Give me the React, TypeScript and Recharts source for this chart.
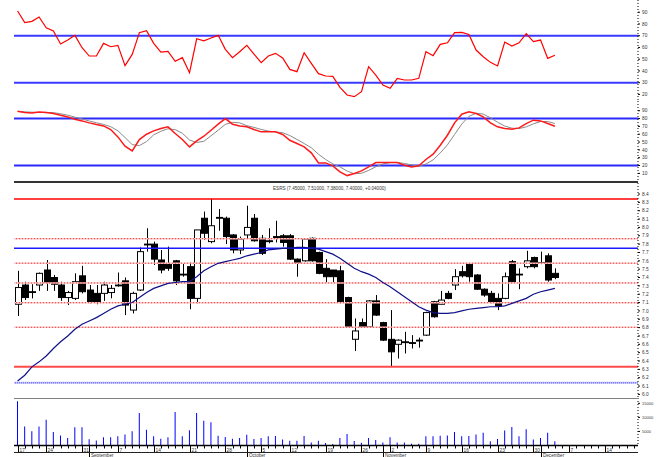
import { Bar, ComposedChart, Line, ReferenceLine, XAxis, YAxis } from 'recharts'

// daily OHLC
const opens = [
	7.08, 7.31, 7.23, 7.31, 7.49, 7.4, 7.31, 7.16, 7.15, 7.42, 7.25, 7.21, 7.21, 7.22, 7.31, 7.36, 7.01, 7.25, 7.8, 7.8,
	7.61, 7.56, 7.6, 7.44, 7.53, 7.15, 8.11, 7.83, 8.12, 8.11, 7.91, 7.73, 7.91, 8.11, 7.87, 7.84, 7.89, 7.9, 7.9, 7.62,
	7.6, 7.87, 7.7, 7.51, 7.49, 7.48, 7.16, 6.66, 6.86, 6.81, 7.12, 6.86, 6.66, 6.6, 6.63, 6.62, 6.64, 6.71, 7.11, 7.08,
	7.21, 7.31, 7.47, 7.56, 7.43, 7.26, 7.21, 7.15, 7.15, 7.59, 7.44, 7.53, 7.64, 7.58, 7.66, 7.45,
]
const highs = [
	7.48, 7.35, 7.32, 7.46, 7.61, 7.43, 7.35, 7.24, 7.45, 7.54, 7.31, 7.31, 7.35, 7.31, 7.46, 7.4, 7.23, 7.76, 7.99, 7.83,
	7.73, 7.77, 7.61, 7.57, 7.58, 7.97, 8.19, 8.34, 8.22, 8.13, 7.92, 7.89, 8.26, 8.16, 7.91, 7.99, 8.08, 7.92, 7.92, 7.63,
	7.87, 7.88, 7.71, 7.62, 7.49, 7.54, 7.17, 6.91, 6.91, 7.13, 7.19, 6.87, 7.01, 6.66, 6.75, 6.71, 6.68, 6.99, 7.12, 7.24,
	7.24, 7.5, 7.54, 7.57, 7.44, 7.27, 7.24, 7.21, 7.46, 7.61, 7.51, 7.72, 7.65, 7.71, 7.69, 7.51,
]
const lows = [
	6.94, 7.13, 7.15, 7.24, 7.24, 7.24, 7.12, 7.07, 7.13, 7.21, 7.09, 7.08, 7.12, 7.15, 7.29, 6.95, 6.97, 7.24, 7.71, 7.55,
	7.45, 7.48, 7.31, 7.41, 7.02, 7.09, 7.85, 7.81, 7.96, 7.8, 7.69, 7.68, 7.87, 7.83, 7.67, 7.81, 7.82, 7.77, 7.61, 7.41,
	7.59, 7.59, 7.44, 7.34, 7.34, 7.09, 6.8, 6.52, 6.8, 6.8, 6.94, 6.64, 6.33, 6.43, 6.49, 6.55, 6.56, 6.7, 6.92, 7.08,
	7.14, 7.25, 7.4, 7.35, 7.25, 7.17, 7.09, 7.01, 7.14, 7.34, 7.26, 7.51, 7.51, 7.56, 7.35, 7.38,
]
const closes = [
	7.28, 7.16, 7.22, 7.45, 7.34, 7.32, 7.16, 7.22, 7.35, 7.23, 7.11, 7.1, 7.31, 7.27, 7.3, 7.07, 7.21, 7.71, 7.8, 7.62,
	7.49, 7.51, 7.36, 7.43, 7.15, 7.97, 7.93, 8.02, 8.11, 7.89, 7.73, 7.86, 8.0, 7.84, 7.69, 7.83, 7.88, 7.82, 7.62, 7.57,
	7.86, 7.6, 7.45, 7.41, 7.41, 7.11, 6.81, 6.76, 6.81, 7.12, 6.95, 6.65, 6.51, 6.65, 6.63, 6.62, 6.65, 6.98, 6.93, 7.13,
	7.15, 7.41, 7.42, 7.41, 7.26, 7.19, 7.11, 7.06, 7.41, 7.35, 7.44, 7.6, 7.53, 7.58, 7.37, 7.4,
]
const movingAvg = [
	6.16, 6.23, 6.33, 6.39, 6.46, 6.55, 6.63, 6.7, 6.78, 6.84, 6.88, 6.92, 6.97, 7.02, 7.06, 7.08, 7.1, 7.16, 7.22, 7.27,
	7.3, 7.33, 7.34, 7.35, 7.35, 7.41, 7.48, 7.53, 7.57, 7.59, 7.61, 7.63, 7.66, 7.68, 7.7, 7.73, 7.74, 7.75, 7.75, 7.76,
	7.76, 7.75, 7.74, 7.71, 7.68, 7.63, 7.57, 7.51, 7.47, 7.44, 7.4, 7.34, 7.29, 7.23, 7.17, 7.11, 7.05, 7.01, 6.98, 6.97,
	6.97, 6.98, 7.0, 7.02, 7.03, 7.04, 7.05, 7.05, 7.06, 7.09, 7.12, 7.15, 7.2, 7.23, 7.25, 7.27,
]
const volume = [
	15700, 6800, 5100, 6800, 9200, 4800, 3600, 2700, 6500, 6500, 2200, 1800, 2900, 2900, 3300, 3900, 5100, 11600, 5600, 3300,
	2400, 2900, 11900, 3300, 5400, 11600, 8800, 8300, 3500, 3000, 2400, 2700, 3800, 2300, 2700, 3300, 3400, 2100, 1700, 1700,
	3400, 1100, 1700, 900, 500, 2700, 4100, 1600, 1000, 2700, 2000, 1100, 2900, 1100, 1100, 650, 650, 3300, 3300, 3500,
	3600, 4800, 3300, 3400, 3900, 4500, 1500, 2300, 5300, 6600, 3300, 5800, 2100, 2700, 4500, 1500,
]
const rsi = [
	91.0, 81.1, 82.2, 85.9, 76.8, 74.0, 62.9, 66.3, 70.3, 59.8, 52.7, 52.7, 63.5, 60.6, 61.8, 44.5, 54.1, 72.6, 74.3, 63.5,
	56.1, 56.7, 48.2, 51.3, 38.5, 67.4, 65.7, 68.0, 70.3, 58.4, 51.3, 56.4, 61.8, 54.4, 47.0, 52.7, 55.0, 51.0, 41.3, 39.4,
	55.5, 46.5, 37.7, 35.7, 35.4, 26.0, 19.5, 18.1, 22.3, 43.6, 36.5, 28.0, 25.2, 33.7, 32.3, 32.3, 33.7, 56.4, 53.0, 62.6,
	64.0, 72.6, 72.8, 71.1, 57.8, 52.1, 47.3, 44.2, 64.6, 61.2, 64.0, 71.7, 64.9, 66.3, 50.7, 53.3,
]
const stochK = [
	89.4, 87.7, 87.2, 88.5, 87.7, 86.4, 84.3, 82.1, 79.1, 77.0, 74.5, 72.3, 70.6, 66.0, 56.6, 44.7, 38.7, 53.2, 60.0, 64.3,
	67.2, 69.4, 60.9, 53.2, 43.8, 51.5, 57.4, 65.1, 72.8, 80.0, 72.8, 70.6, 69.4, 66.0, 63.0, 63.0, 63.0, 59.6, 52.3, 48.1,
	43.8, 36.2, 23.4, 23.4, 19.6, 11.9, 7.2, 9.8, 13.2, 18.3, 23.8, 23.8, 23.8, 23.8, 20.4, 18.3, 19.6, 27.7, 34.5, 46.0,
	58.7, 74.5, 85.5, 88.5, 86.4, 82.1, 74.5, 69.4, 67.2, 66.4, 68.1, 73.6, 77.9, 77.0, 73.6, 70.2,
]
const stochD = [
	89.0, 88.5, 88.1, 87.8, 87.8, 87.5, 86.1, 84.3, 81.8, 79.4, 76.9, 74.6, 72.5, 69.6, 64.4, 55.8, 46.7, 45.5, 50.6, 59.2,
	63.8, 67.0, 65.8, 61.2, 52.6, 49.5, 50.9, 58.0, 65.1, 72.6, 75.2, 74.5, 70.9, 68.7, 66.1, 64.0, 63.0, 61.9, 58.3, 53.3,
	48.1, 42.7, 34.5, 27.7, 22.1, 18.3, 12.9, 9.6, 10.1, 13.8, 18.4, 22.0, 23.8, 23.8, 22.7, 20.8, 19.4, 21.9, 27.3, 36.1,
	46.4, 59.7, 72.9, 82.8, 86.8, 85.7, 81.0, 75.3, 70.4, 67.7, 67.2, 69.4, 73.2, 76.2, 76.2, 73.6,
]

// bar index of each week / month start on the date axis
const weekStarts = [0, 4, 9, 14, 19, 24, 29, 34, 38, 43, 48, 52, 57, 62, 67, 72, 77, 82]
const weekLabels = ['17', '24', '31', '7', '14', '21', '28', '5', '12', '19', '26', '2', '9', '16', '23', '30', '7', '14']
const monthStarts = [10, 32, 51, 73]
const monthLabels = ['September', 'October', 'November', 'December']

const rsiLevels = [70, 30]
const stochLevels = [80, 20]
const rangeLevels = [8.34, 6.33]
const fibLevels = [7.865, 7.572, 7.335, 7.098, 6.804]
const resistance = 7.75
const support = 6.14

const rsiTicks = [20, 30, 40, 50, 60, 70, 80, 90]
const stochTicks = [10, 20, 30, 40, 50, 60, 70, 80, 90]
const priceTicks = [
	6.0, 6.1, 6.2, 6.3, 6.4, 6.5, 6.6, 6.7, 6.8, 6.9, 7.0, 7.1, 7.2, 7.3, 7.4, 7.5, 7.6, 7.7, 7.8, 7.9, 8.0, 8.1, 8.2, 8.3, 8.4,
]
const volumeTicks = [5000, 10000, 15000]
const title = 'ESRS (7.45000, 7.51000, 7.38000, 7.40000, +0.04000)'

const rows = opens.map((o, i) => ({
	i,
	o,
	h: highs[i],
	l: lows[i],
	c: closes[i],
	range: [lows[i], highs[i]],
	ma: movingAvg[i],
	vol: volume[i],
	rsi: rsi[i],
	k: stochK[i],
	d: stochD[i],
}))
const daySlots = Array.from({ length: 87 }, (_, i) => i)

const W = 658
const X_DOMAIN: [number, number] = [-0.5, 86.6]
const MARGIN = { top: 0, right: 0, bottom: 0, left: 14 }
const FONT = '"Liberation Sans", Arial, sans-serif'

const RightTick = (props: any) => {
	const { x, y, payload, digits = 0, size = 4.8 } = props
	return (
		<text x={x} y={y} dy={size * 0.36} fontSize={size} fill='#333' fontFamily={FONT}>
			{digits ? Number(payload.value).toFixed(digits) : payload.value}
		</text>
	)
}

const Candle = (props: any) => {
	const { x, y, width, height, payload } = props
	if (!payload || y == null) return null
	const { o, h, l, c } = payload
	const cx = Math.round(x + width / 2) + 0.5
	const k = h > l ? height / (h - l) : 0
	const yOf = (v: number) => y + (h - v) * k
	const top = yOf(Math.max(o, c))
	const bot = yOf(Math.min(o, c))
	const up = c > o
	return (
		<g>
			<line x1={cx} x2={cx} y1={y} y2={y + height} stroke='#000' strokeWidth={1} />
			<rect
				x={cx - 3}
				y={top}
				width={6}
				height={Math.max(bot - top, 0.8)}
				fill={up ? '#fff' : '#000'}
				stroke='#000'
				strokeWidth={1}
			/>
		</g>
	)
}

const DayTick = (props: any) => {
	const { x, y, payload } = props
	const w = weekStarts.indexOf(payload.value)
	const m = monthStarts.indexOf(payload.value)
	const len = m >= 0 ? 12 : w >= 0 ? 7.5 : 3
	const px = Math.round(x) + 0.5
	return (
		<g>
			<line x1={px} x2={px} y1={y} y2={y + len} stroke='#000' strokeWidth={1} />
			{w >= 0 && (
				<text x={px + 1} y={y + 6} fontSize={4.8} fill='#333' fontFamily={FONT}>
					{weekLabels[w]}
				</text>
			)}
			{m >= 0 && (
				<text x={px + 1.5} y={y + 11.3} fontSize={4.6} fill='#333' fontFamily={FONT}>
					{monthLabels[m]}
				</text>
			)}
		</g>
	)
}

const axisLine = { stroke: '#000', strokeDasharray: '1 2' }

const App = () => {
	return (
		<div style={{ position: 'absolute', left: 0, top: 0, width: W, height: 457, overflow: 'hidden', background: '#fff' }}>
			{/* RSI */}
			<div style={{ position: 'absolute', top: 0, left: 0 }}>
				<ComposedChart width={W} height={101} data={rows} margin={MARGIN}>
					<XAxis type='number' dataKey='i' domain={X_DOMAIN} allowDataOverflow hide />
					<YAxis
						orientation='right'
						width={20}
						domain={[14.4, 100.4]}
						allowDataOverflow
						ticks={rsiTicks}
						interval={0}
						tickSize={2}
						axisLine={axisLine}
						tickLine={{ stroke: '#000' }}
						tick={(p: any) => <RightTick {...p} />}
					/>
					{rsiLevels.map((v) => (
						<ReferenceLine key={v} y={v} stroke='#3a3aff' strokeWidth={2} />
					))}
					<Line dataKey='rsi' stroke='#ff0000' strokeWidth={1.2} dot={false} isAnimationActive={false} />
				</ComposedChart>
			</div>

			{/* Stochastic */}
			<div style={{ position: 'absolute', top: 101, left: 0 }}>
				<ComposedChart width={W} height={81} data={rows} margin={MARGIN}>
					<XAxis type='number' dataKey='i' domain={X_DOMAIN} allowDataOverflow hide />
					<YAxis
						orientation='right'
						width={20}
						domain={[-1, 102.4]}
						allowDataOverflow
						ticks={stochTicks}
						interval={0}
						tickSize={2}
						axisLine={axisLine}
						tickLine={{ stroke: '#000' }}
						tick={(p: any) => <RightTick {...p} />}
					/>
					{stochLevels.map((v) => (
						<ReferenceLine key={v} y={v} stroke='#2a2aff' strokeWidth={2} />
					))}
					<Line dataKey='d' stroke='#8a8a8a' strokeWidth={1} dot={false} isAnimationActive={false} />
					<Line dataKey='k' stroke='#ff1a1a' strokeWidth={1.5} dot={false} isAnimationActive={false} />
				</ComposedChart>
			</div>

			{/* Price */}
			<div style={{ position: 'absolute', top: 183, left: 0 }}>
				<ComposedChart width={W} height={215} data={rows} margin={MARGIN}>
					<XAxis type='number' dataKey='i' domain={X_DOMAIN} allowDataOverflow hide />
					<YAxis
						orientation='right'
						width={20}
						domain={[5.957, 8.532]}
						allowDataOverflow
						ticks={priceTicks}
						interval={0}
						tickSize={2}
						axisLine={axisLine}
						tickLine={{ stroke: '#000' }}
						tick={(p: any) => <RightTick {...p} digits={1} />}
					/>
					{fibLevels.map((v) => (
						<ReferenceLine key={`b${v}`} y={v} stroke='#ffc4c4' strokeWidth={1.5} />
					))}
					{fibLevels.map((v) => (
						<ReferenceLine key={`d${v}`} y={v} stroke='#ff3030' strokeWidth={1} strokeDasharray='1 2' />
					))}
					<ReferenceLine y={rangeLevels[0]} stroke='#ff0000' strokeWidth={1.5} />
					<ReferenceLine y={rangeLevels[1]} stroke='#ff4a4a' strokeWidth={2} />
					<ReferenceLine y={resistance} stroke='#1a1aff' strokeWidth={1.5} />
					<ReferenceLine y={support} stroke='#c4c4ff' strokeWidth={2} />
					<ReferenceLine y={support} stroke='#7878ff' strokeWidth={1.5} strokeDasharray='1 1' />
					<Bar dataKey='range' barSize={6} shape={(p: any) => <Candle {...p} />} isAnimationActive={false} />
					<Line dataKey='ma' stroke='#10108a' strokeWidth={1.2} dot={false} isAnimationActive={false} />
				</ComposedChart>
			</div>

			{/* Volume */}
			<div style={{ position: 'absolute', top: 398, left: 0 }}>
				<ComposedChart width={W} height={59} data={rows} margin={MARGIN}>
					<XAxis
						type='number'
						dataKey='i'
						domain={X_DOMAIN}
						allowDataOverflow
						ticks={daySlots}
						interval={0}
						height={11.5}
						tickSize={0}
						tickMargin={0}
						tickLine={false}
						axisLine={{ stroke: '#000', strokeWidth: 1.5 }}
						tick={(p: any) => <DayTick {...p} />}
					/>
					<YAxis
						orientation='right'
						width={20}
						domain={[0, 16900]}
						allowDataOverflow
						ticks={volumeTicks}
						interval={0}
						tickSize={2}
						axisLine={axisLine}
						tickLine={{ stroke: '#000' }}
						tick={(p: any) => <RightTick {...p} size={4} />}
					/>
					<Bar dataKey='vol' fill='#0000ff' barSize={1} isAnimationActive={false} />
				</ComposedChart>
			</div>

			{/* panel separators and the month row line */}
			<div style={{ position: 'absolute', top: 181, left: 14, width: 624, height: 1.5, background: '#333' }} />
			<div style={{ position: 'absolute', top: 397.5, left: 14, width: 624, height: 1, background: '#808080' }} />
			<div style={{ position: 'absolute', top: 452, left: 14, width: 624, height: 1.3, background: '#222' }} />

			<div
				style={{
					position: 'absolute',
					top: 185.5,
					left: 273,
					whiteSpace: 'nowrap',
					fontFamily: FONT,
					fontSize: 4.6,
					color: '#333',
					lineHeight: '6px',
				}}
			>
				{title}
			</div>
		</div>
	)
}

export default App
